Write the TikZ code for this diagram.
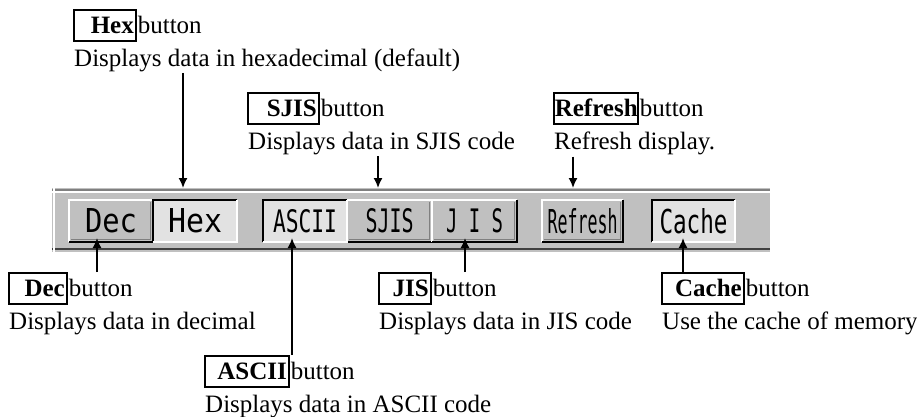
\documentclass[tikz,border=0pt]{standalone}
\usepackage{fontspec}
\usepackage{graphicx}
\setmainfont{Liberation Serif}
\newfontfamily\btnfont{DejaVu Sans Mono}
\usetikzlibrary{arrows.meta}
\definecolor{wingray}{RGB}{192,192,192}
\definecolor{winlight}{RGB}{226,226,226}
\definecolor{winshadow}{RGB}{128,128,128}

\newcommand{\btnlabel}[3]{\resizebox{#1}{#2}{\btnfont #3}}

\begin{document}
\begin{tikzpicture}[x=1pt, y=-1pt, font=\fontsize{25}{30}\selectfont, >={Latex[length=10pt, width=9pt]}]
\tikzstyle{keybox} = [draw=black, line width=1.6pt, font=\fontsize{25}{30}\selectfont\bfseries, text width=#1, align=right, inner xsep=2pt, inner ysep=0pt, minimum height=31pt, anchor=north west]
\tikzstyle{txt} = [inner sep=1pt, anchor=base west]
\tikzstyle{btn} = [minimum height=42pt, inner sep=0pt, outer sep=0pt]
\tikzstyle{raised} = [btn, fill=wingray]
\tikzstyle{pressed} = [btn, fill=winlight]
\tikzstyle{pin} = [->, line width=1.6pt]

\useasboundingbox (0,0) rectangle (917,417);

% toolbar
\node (bar) [fill=wingray, minimum width=718pt, minimum height=64pt, inner sep=0pt] at (411,220) {};
\draw[winshadow, line width=1.5pt] ([yshift=-2pt]bar.north west) -- ([yshift=-2pt]bar.north east);
\draw[white, line width=1.5pt] ([yshift=-4pt]bar.north west) -- ([yshift=-4pt]bar.north east);
\draw[black!75, line width=2pt] ([yshift=3pt]bar.south west) -- ([yshift=3pt]bar.south east);
\draw[white, line width=1.5pt] ([xshift=2pt]bar.north west) -- ([xshift=2pt]bar.south west);

\node (dec) [raised, minimum width=84pt] at (111,221) {\btnlabel{52pt}{24pt}{Dec}};
\node (hex) [pressed, minimum width=84pt] at (195,221) {\btnlabel{54pt}{24pt}{Hex}};
\node (ascii) [pressed, minimum width=84pt] at (305,221) {\btnlabel{64pt}{23pt}{ASCII}};
\node (sjis) [raised, minimum width=85pt] at (389.5,221) {\btnlabel{48pt}{24pt}{SJIS}};
\node (jis) [raised, minimum width=85pt] at (474.5,221) {\btnlabel{57pt}{24pt}{J I S}};
\node (refresh) [raised, minimum width=81pt] at (582.5,221) {\btnlabel{70pt}{25pt}{Refresh}};
\node (cache) [pressed, minimum width=83pt] at (693.5,221) {\btnlabel{68pt}{25pt}{Cache}};

\foreach \b in {dec,sjis,jis,refresh} {
  \draw[white, line width=2pt] (\b.south west) -- (\b.north west) -- (\b.north east);
  \draw[winshadow, line width=1.5pt] ([xshift=-2.5pt,yshift=-2pt]\b.north east) -- ([xshift=-2.5pt,yshift=2.5pt]\b.south east) -- ([xshift=2pt,yshift=2.5pt]\b.south west);
  \draw[black, line width=2pt] (\b.north east) -- (\b.south east) -- (\b.south west);
}
\foreach \b in {hex,ascii,cache} {
  \draw[black, line width=2pt] (\b.south west) -- (\b.north west) -- (\b.north east);
  \draw[white, line width=2pt] (\b.north east) -- (\b.south east) -- (\b.south west);
}

% labels above
\node (hexkey) [keybox=58pt] at (73,9) {Hex};
\node (hexword) [txt] at (hexkey.base east) {button};
\node (hexdesc) [txt] at ([yshift=-33pt]hexkey.base west) {Displays data in hexadecimal (default)};

\node (sjiskey) [keybox=67pt] at (247,92) {SJIS};
\node (sjisword) [txt] at (sjiskey.base east) {button};
\node (sjisdesc) [txt] at ([yshift=-33pt]sjiskey.base west) {Displays data in SJIS code};

\node (refreshkey) [keybox=82pt, inner xsep=1pt] at (553,92) {Refresh};
\node (refreshword) [txt] at (refreshkey.base east) {button};
\node (refreshdesc) [txt] at ([yshift=-33pt]refreshkey.base west) {Refresh display.};

% labels below
\node (deckey) [keybox=54pt] at (8,272) {Dec};
\node (decword) [txt] at (deckey.base east) {button};
\node (decdesc) [txt] at ([yshift=-33pt]deckey.base west) {Displays data in decimal};

\node (jiskey) [keybox=48pt] at (378,272) {JIS};
\node (jisword) [txt] at (jiskey.base east) {button};
\node (jisdesc) [txt] at ([yshift=-33pt]jiskey.base west) {Displays data in JIS code};

\node (cachekey) [keybox=78pt] at (661,272) {Cache};
\node (cacheword) [txt] at (cachekey.base east) {button};
\node (cachedesc) [txt] at ([yshift=-33pt]cachekey.base west) {Use the cache of memory};

\node (asciikey) [keybox=80pt] at (204,355) {ASCII};
\node (asciiword) [txt] at (asciikey.base east) {button};
\node (asciidesc) [txt] at ([yshift=-33pt]asciikey.base west) {Displays data in ASCII code};

% pins
\coordinate (hexpin) at (183,188);
\coordinate (sjispin) at (378,188);
\coordinate (refreshpin) at (573,188);
\coordinate (decpin) at (97,238);
\coordinate (asciipin) at (292,238);
\coordinate (jispin) at (465,238);
\coordinate (cachepin) at (683,238);

\draw[pin] (hexdesc.south -| hexpin) -- (hexpin);
\draw[pin] (sjisdesc.south -| sjispin) -- (sjispin);
\draw[pin] (refreshdesc.south -| refreshpin) -- (refreshpin);
\draw[pin] (deckey.north -| decpin) -- (decpin);
\draw[pin] (asciikey.north -| asciipin) -- (asciipin);
\draw[pin] (jiskey.north -| jispin) -- (jispin);
\draw[pin] (cachekey.north -| cachepin) -- (cachepin);

\end{tikzpicture}
\end{document}
